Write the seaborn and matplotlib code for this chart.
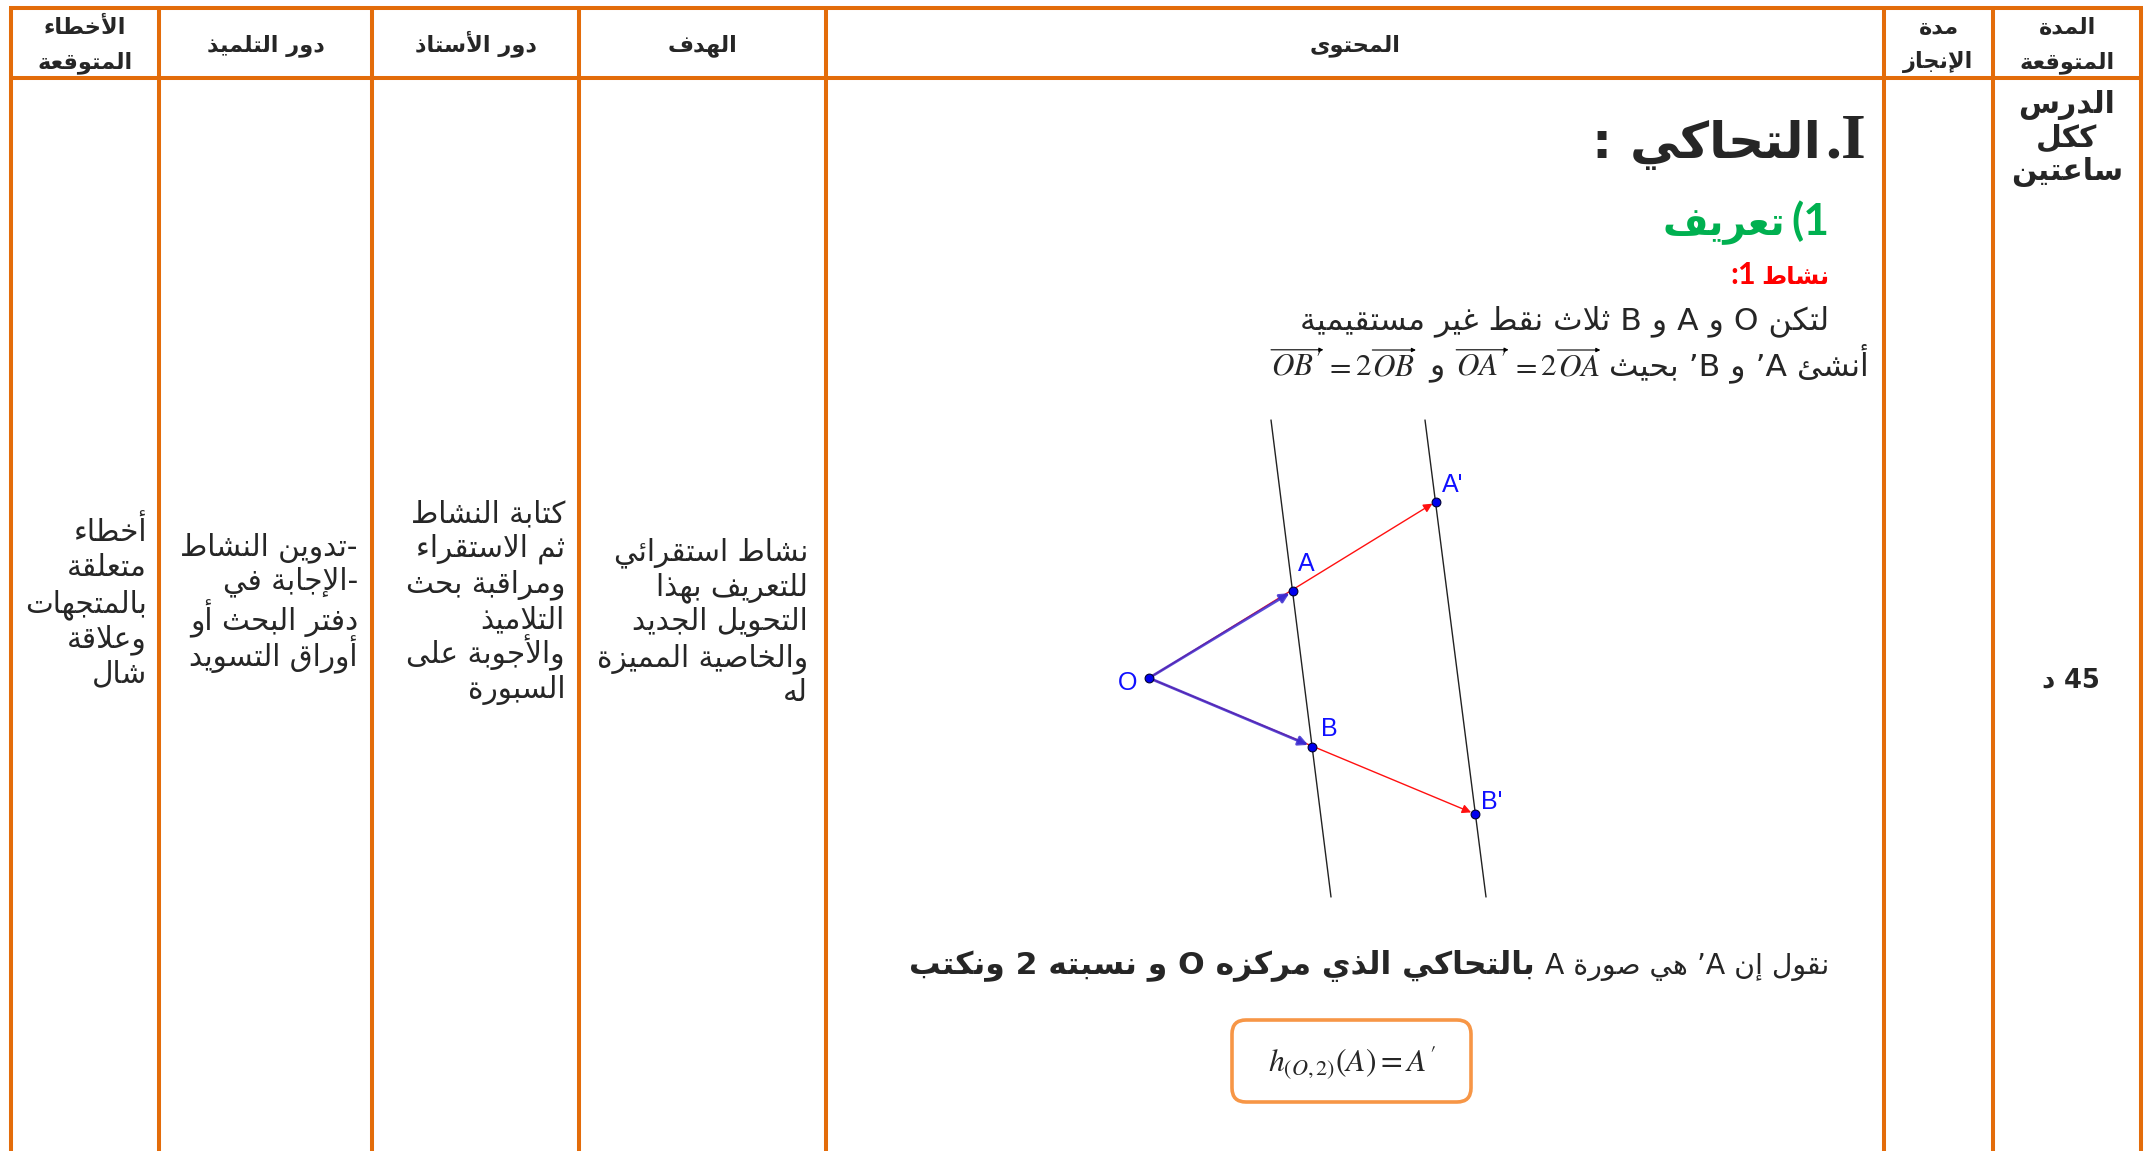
import re
import matplotlib
matplotlib.use("Agg")
from matplotlib import pyplot as plt
from matplotlib.patches import FancyBboxPatch
import pandas as pd
import seaborn as sns

W, H = 2152, 1151

# ---- content of the page ----
headers = [["الأخطاء", "المتوقعة"], ["دور التلميذ"], ["دور الأستاذ"], ["الهدف"],
           ["المحتوى"], ["مدة", "الإنجاز"], ["المدة", "المتوقعة"]]
errors_txt = ["أخطاء", "متعلقة", "بالمتجهات", "وعلاقة", "شال"]
student_txt = ["-تدوين النشاط", "-الإجابة في", "دفتر البحث أو", "أوراق التسويد"]
teacher_txt = ["كتابة النشاط", "ثم الاستقراء", "ومراقبة بحث", "التلاميذ",
               "والأجوبة على", "السبورة"]
goal_txt = ["نشاط استقرائي", "للتعريف بهذا", "التحويل الجديد", "والخاصية المميزة", "له"]
duration_txt = ["الدرس", "ككل", "ساعتين"]
done_txt = "45 د"
title_txt = "التحاكي"
section_txt = "تعريف"
activity_txt = "نشاط"
line1_txt = "لتكن O و A و B ثلاث نقط غير مستقيمية"
line2_txt = "أنشئ A’ و B’ بحيث"
say_txt = "نقول إن A’ هي صورة A"
say_bold_txt = "بالتحاكي الذي مركزه O و نسبته 2 ونكتب"
formula_txt = r"$h_{(O,2)}(A)=A'$"

# figure points (geometry units, O at origin)
point_names = ["O", "A", "B", "A'", "B'"]
point_x = [0.0, 1.44, 1.63, 2.87, 3.26]
point_y = [0.0, 0.87, -0.685, 1.765, -1.36]
line_x = [[1.22, 1.82], [2.76, 3.37]]
line_y = [[2.58, -2.19], [2.58, -2.19]]

ORANGE = "#E36C0A"

# ---- tiny arabic shaper (presentation forms + visual order) ----
FOUR = dict(zip("ئبتثجحخسشصضطظعغفقكلمنهي",
                [0xFE89, 0xFE8F, 0xFE95, 0xFE99, 0xFE9D, 0xFEA1, 0xFEA5, 0xFEB1,
                 0xFEB5, 0xFEB9, 0xFEBD, 0xFEC1, 0xFEC5, 0xFEC9, 0xFECD, 0xFED1,
                 0xFED5, 0xFED9, 0xFEDD, 0xFEE1, 0xFEE5, 0xFEE9, 0xFEF1]))
TWO = dict(zip("آأؤإاةدذرزوى",
               [0xFE81, 0xFE83, 0xFE85, 0xFE87, 0xFE8D, 0xFE93, 0xFEA9, 0xFEAB,
                0xFEAD, 0xFEAF, 0xFEED, 0xFEEF]))
LAM_ALEF = {"آ": 0xFEF5, "أ": 0xFEF7, "إ": 0xFEF9, "ا": 0xFEFB}
MIRROR = str.maketrans("()", ")(")


def shape(s):
    units = []
    i = 0
    while i < len(s):
        if s[i] == "ل" and i + 1 < len(s) and s[i + 1] in LAM_ALEF:
            units.append(("LA", s[i + 1]))
            i += 2
        else:
            units.append(("C", s[i]))
            i += 1

    def joins_next(u):
        return u[0] == "C" and u[1] in FOUR

    def takes_join(u):
        return u[0] == "LA" or u[1] in FOUR or u[1] in TWO

    out = []
    for k, u in enumerate(units):
        jp = k > 0 and joins_next(units[k - 1])
        jn = joins_next(u) and k + 1 < len(units) and takes_join(units[k + 1])
        if u[0] == "LA":
            out.append(chr(LAM_ALEF[u[1]] + (1 if jp else 0)))
        elif u[1] in FOUR:
            out.append(chr(FOUR[u[1]] + (3 if jp and jn else 1 if jp else 2 if jn else 0)))
        elif u[1] in TWO:
            out.append(chr(TWO[u[1]] + (1 if jp else 0)))
        elif u[1] == "ء":
            out.append("\uFE80")
        else:
            out.append(u[1])
    return "".join(out)


def ar(s):
    parts = re.split(r"([A-Za-z0-9]+)", shape(s))
    out = []
    for p in reversed(parts):
        if re.fullmatch(r"[A-Za-z0-9]+", p):
            out.append(p)
        else:
            out.append(p[::-1].translate(MIRROR))
    return "".join(out)


sns.set_theme(style="white")
plt.rcParams["font.family"] = ["DejaVu Sans"]
plt.rcParams["mathtext.fontset"] = "stix"

fig = plt.figure(figsize=(W / 100, H / 100), dpi=100)
fig.patch.set_facecolor("white")
ax = fig.add_axes([0, 0, 1, 1])
ax.set_xlim(0, W)
ax.set_ylim(H, 0)
ax.axis("off")
rend = fig.canvas.get_renderer()


def width20(s, **kw):
    t = ax.text(0, 0, s, fontsize=20, **kw)
    w = t.get_window_extent(rend).width
    t.remove()
    return w


def fit(s, target, **kw):
    return 20 * target / width20(s, **kw)


def row(x, y, pieces):
    # pieces go from right to left: (text, kwargs, gap, arrow above)
    for s, kw, gap, arrow in pieces:
        t = ax.text(x, y, s, ha="right", va="baseline", **kw)
        bb = t.get_window_extent(rend)
        if arrow:
            ya = H - bb.y1 - 2
            ax.annotate("", xy=(x + 1, ya), xytext=(x - bb.width, ya),
                        arrowprops=dict(arrowstyle="-|>", lw=0.8, color="black",
                                        mutation_scale=6, shrinkA=0, shrinkB=0))
        x -= bb.width + gap


# ---- table grid ----
col_edges = [11, 159, 372, 579, 826, 1884, 1993, 2141]
ax.hlines([8, 78], col_edges[0] - 2, col_edges[-1] + 2, color=ORANGE, lw=2.9)
ax.vlines(col_edges, 8, H + 5, color=ORANGE, lw=2.9)

# ---- header ----
fs_head = fit(ar("دور الأستاذ"), 122, weight="bold")
for k, lines in enumerate(headers):
    xc = (col_edges[k] + col_edges[k + 1]) / 2
    ys = [51] if len(lines) == 1 else [34, 68]
    for s, y in zip(lines, ys):
        ax.text(xc, y, ar(s), ha="center", va="baseline", fontsize=fs_head, weight="bold")

# ---- left columns (baselines of each line) ----
fs_body = fit(ar("بالمتجهات"), 122)
col_lines = [(errors_txt, 147, [541, 576, 612, 647, 682]),
             (student_txt, 358, [555, 589, 630, 666]),
             (teacher_txt, 565, [522, 557, 592, 628, 663, 698]),
             (goal_txt, 808, [560, 595, 630, 666, 701])]
for lines, xr, ys in col_lines:
    for s, y in zip(lines, ys):
        ax.text(xr, y, ar(s), ha="right", va="baseline", fontsize=fs_body)

# ---- duration columns ----
fs_dur = fit(ar("ساعتين"), 112, weight="bold")
for i, s in enumerate(duration_txt):
    ax.text(2067, 113 + i * 33.5, ar(s), ha="center", va="baseline",
            fontsize=fs_dur, weight="bold")
ax.text(2100, 687, ar(done_txt), ha="right", va="baseline",
        fontsize=fit(ar(done_txt), 58, weight="bold"), weight="bold")

# ---- content column ----
fs_title = fit(ar(title_txt), 192, weight="bold")
serif_b = dict(fontsize=46, family="Liberation Serif", weight="bold")
row(1866, 158, [("I", serif_b, 0, False), (".", serif_b, 4, False),
                (ar(title_txt), dict(fontsize=fs_title, weight="bold"), 18, False),
                (":", dict(fontsize=fs_title, weight="bold"), 0, False)])

green = "#00B050"
row(1829, 235, [("(1", dict(fontsize=32, family="Lato", weight="bold", color=green), 6, False),
                (ar(section_txt), dict(fontsize=fit(ar(section_txt), 122, weight="bold"),
                                       weight="bold", color=green), 0, False)])
row(1829, 284, [(ar(activity_txt), dict(fontsize=fit(ar(activity_txt), 68, weight="bold"),
                                        weight="bold", color="red"), 5, False),
                (":1", dict(fontsize=22, family="Lato", weight="bold", color="red"), 0, False)])

fs_line = fit(ar(line1_txt), 528)
ax.text(1829, 329, ar(line1_txt), ha="right", va="baseline", fontsize=fs_line)

fs_math = fit(r"$OA'=2OA$", 140)
m = dict(fontsize=fs_math)
b = dict(fontsize=fs_line)
row(1869, 375, [(ar(line2_txt), b, 10, False),
                (r"$OA$", m, 1, True), (r"$2$", m, 3, False), (r"$=$", m, 3, False),
                (r"$OA'$", m, 12, True), (ar("و"), b, 14, False),
                (r"$OB$", m, 1, True), (r"$2$", m, 3, False), (r"$=$", m, 3, False),
                (r"$OB'$", m, 0, True)])

# regular + bold sentence sharing the 918 px line
ratio = 0.9
w_reg = width20(ar(say_txt))
w_bold = width20(ar(say_bold_txt), weight="bold")
fs_bold = 20 * (918 - 10) / (ratio * w_reg + w_bold)
row(1829, 974, [(ar(say_txt), dict(fontsize=ratio * fs_bold), 10, False),
                (ar(say_bold_txt), dict(fontsize=fs_bold, weight="bold"), 0, False)])

ax.add_patch(FancyBboxPatch((1232, 1020), 239, 82, boxstyle="round,pad=0,rounding_size=14",
                            fc="white", ec="#F79646", lw=2.6, zorder=3))
ax.text(1352, 1063, formula_txt, ha="center", va="center",
        fontsize=fit(formula_txt, 168), zorder=4)

# ---- geometry figure (1 unit = 100 px, O at pixel (1149, 678)) ----
dax = fig.add_axes([1100 / W, 1 - 920 / H, 450 / W, 520 / H])
dax.set_xlim(-0.49, 4.01)
dax.set_ylim(-2.42, 2.78)
dax.axis("off")
pts = pd.DataFrame({"name": point_names, "x": point_x, "y": point_y}).set_index("name")

for xs, ys in zip(line_x, line_y):
    dax.plot(xs, ys, color="#222222", lw=1.0, zorder=1)

O = (pts.loc["O", "x"], pts.loc["O", "y"])
for tgt in ["A'", "B'"]:
    dax.annotate("", xy=(pts.loc[tgt, "x"], pts.loc[tgt, "y"]), xytext=O,
                 arrowprops=dict(arrowstyle="-|>", color="#FF1010", lw=1.0,
                                 mutation_scale=13, shrinkA=0, shrinkB=3), zorder=2)
for tgt in ["A", "B"]:
    dax.annotate("", xy=(pts.loc[tgt, "x"], pts.loc[tgt, "y"]), xytext=O,
                 arrowprops=dict(arrowstyle="-|>", color="#3a2ad0", lw=2.0, alpha=0.85,
                                 mutation_scale=14, shrinkA=0, shrinkB=3), zorder=3)

sns.scatterplot(data=pts.reset_index(), x="x", y="y", ax=dax, color="#0000EE",
                edgecolor="#000033", linewidth=0.8, s=40, zorder=5, legend=False)
dax.set_xlabel("")
dax.set_ylabel("")
label_offsets = {"O": (-21, -5), "A": (13, 27), "B": (17, 18), "A'": (17, 16), "B'": (17, 12)}
for name in point_names:
    dax.annotate(name, (pts.loc[name, "x"], pts.loc[name, "y"]),
                 xytext=label_offsets[name], textcoords="offset pixels",
                 ha="center", va="center", color="#1010FF", fontsize=18,
                 family="Liberation Sans")

fig.savefig("out.png", dpi=100, facecolor="white")
